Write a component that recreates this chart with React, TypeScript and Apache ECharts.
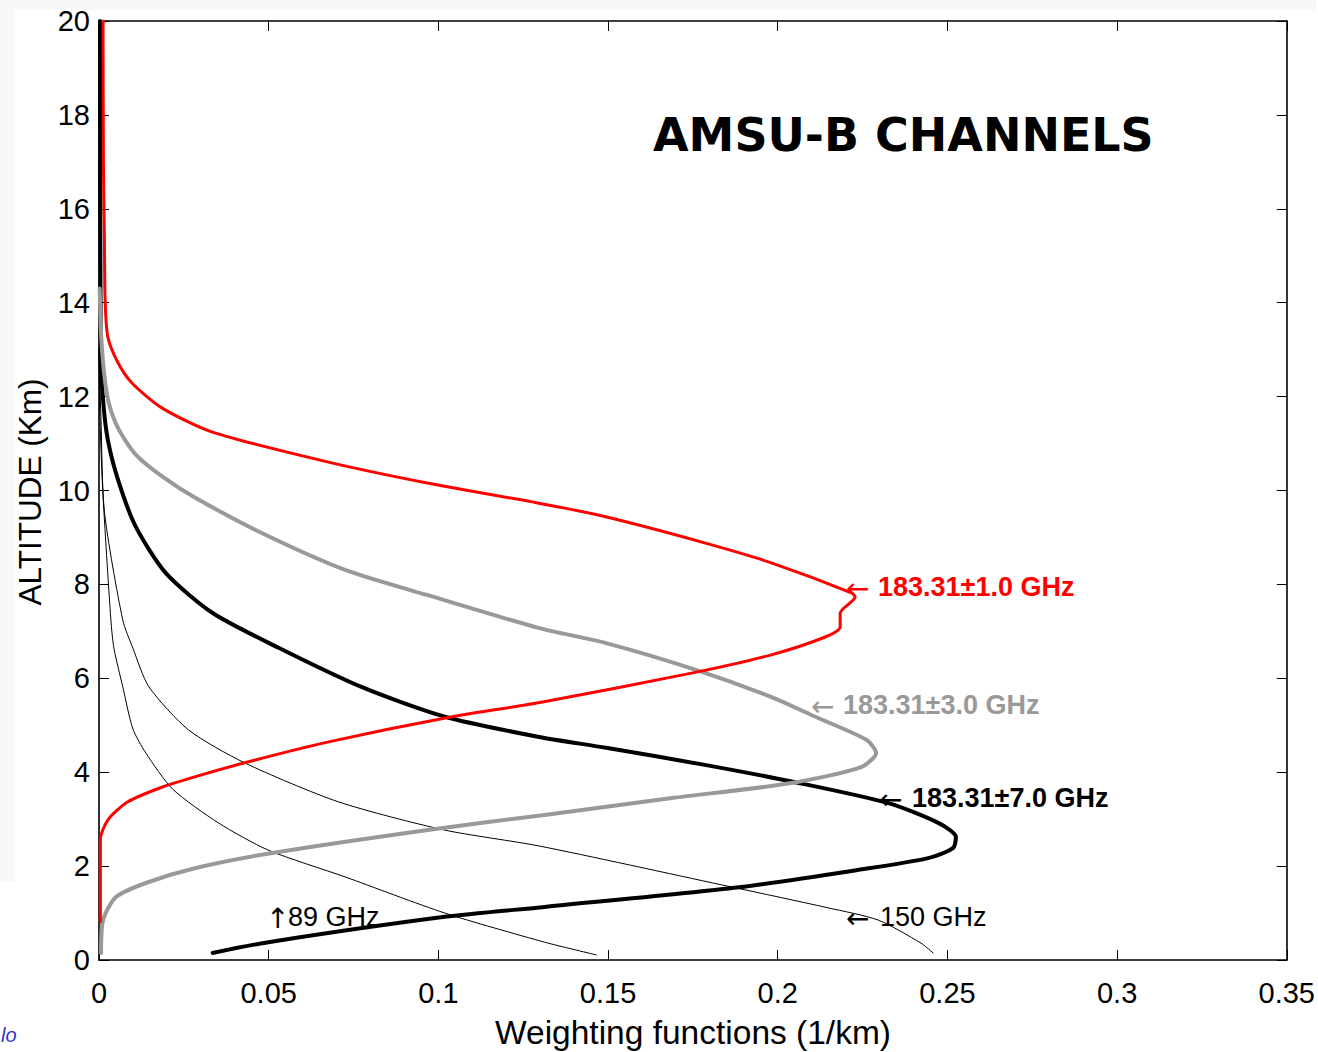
import React, { useEffect, useRef } from "react";
import * as echarts from "echarts";

// Weighting function (1/km) vs altitude (km)
const ch89: number[][] = [
  [0, 13.0], [0.0003, 11.5], [0.0011, 10.0], [0.0035, 7.24], [0.0044, 6.64],
  [0.007, 5.82], [0.01, 4.92], [0.0138, 4.41], [0.0217, 3.64], [0.0352, 2.92],
  [0.0499, 2.34], [0.0725, 1.77], [0.1019, 1.0], [0.1313, 0.38], [0.1465, 0.11],
];
const ch150: number[][] = [
  [0, 13.0], [0.0006, 11.5], [0.0016, 9.55], [0.007, 7.24], [0.01, 6.64],
  [0.0147, 5.82], [0.0264, 4.9], [0.0429, 4.2], [0.0705, 3.37], [0.1017, 2.77],
  [0.1296, 2.43], [0.1835, 1.6], [0.2149, 1.11], [0.2296, 0.85], [0.2422, 0.36],
  [0.2458, 0.15],
];
const ch7: number[][] = [
  [0.0335, 0.15], [0.0499, 0.38], [0.1019, 0.92], [0.1313, 1.13], [0.1885, 1.55],
  [0.2238, 1.92], [0.2443, 2.17], [0.2517, 2.39], [0.2525, 2.62], [0.2473, 2.92],
  [0.2326, 3.34], [0.2062, 3.77], [0.1789, 4.15], [0.1494, 4.52], [0.1297, 4.75],
  [0.1019, 5.18], [0.0775, 5.81], [0.0529, 6.65], [0.0335, 7.39],
  [0.0197, 8.24], [0.0109, 9.22], [0.0059, 10.16], [0.0026, 11.08], [0.0012, 11.93],
  [0.0005, 13.0], [0.0003, 20.0],
];
const ch3: number[][] = [
  [0.0006, 0.15], [0.0012, 0.85], [0.005, 1.34], [0.0138, 1.64], [0.0285, 1.96],
  [0.0511, 2.28], [0.0969, 2.77], [0.1313, 3.09], [0.1688, 3.45], [0.2041, 3.77],
  [0.2246, 4.11], [0.229, 4.41], [0.2261, 4.69], [0.2111, 5.18], [0.1982, 5.6],
  [0.1759, 6.18], [0.1494, 6.75], [0.1297, 7.07], [0.0969, 7.77], [0.0725, 8.31],
  [0.0481, 9.09], [0.0285, 9.84], [0.0188, 10.29], [0.0109, 10.76], [0.0059, 11.29],
  [0.0029, 11.86], [0.0015, 12.5], [0.0006, 13.35], [0.0002, 14.3],
];
const ch1: number[][] = [
  [0.0004, 0.81], [0.0004, 2.56], [0.0026, 2.98], [0.0085, 3.37], [0.0185, 3.68],
  [0.0282, 3.9], [0.0429, 4.2], [0.0673, 4.64], [0.1017, 5.15], [0.1311, 5.5],
  [0.1746, 6.11], [0.1981, 6.5], [0.214, 6.88], [0.2184, 7.09], [0.2184, 7.39],
  [0.2228, 7.73], [0.2217, 7.82], [0.1981, 8.46], [0.1787, 8.88], [0.1493, 9.44],
  [0.1296, 9.73], [0.0967, 10.16], [0.0673, 10.61], [0.0332, 11.25], [0.0185, 11.76],
  [0.0097, 12.29], [0.0056, 12.72], [0.0026, 13.27], [0.0018, 14.06], [0.0016, 15.3],
  [0.0013, 17.0], [0.0012, 20.0],
];

const xTicks = [0, 0.35, 0.05];
const yTicks = [0, 20, 2];

const titleText = "AMSU-B CHANNELS";
const xName = "Weighting functions (1/km)";
const yName = "ALTITUDE (Km)";
const labels = [
  { arrow: "←", text: "183.31±1.0 GHz", color: "#ff0000", bold: true, ax: 846, tx: 878, y: 587 },
  { arrow: "←", text: "183.31±3.0 GHz", color: "#999999", bold: true, ax: 811, tx: 843, y: 705 },
  { arrow: "←", text: "183.31±7.0 GHz", color: "#000000", bold: true, ax: 879, tx: 912, y: 798 },
  { arrow: "←", text: "150 GHz", color: "#000000", bold: false, ax: 846, tx: 880, y: 917 },
  { arrow: "↑", text: "89 GHz", color: "#000000", bold: false, ax: 266, tx: 288, y: 917 },
];

const FONT = "'Liberation Sans', Arial, Helvetica, sans-serif";

export default function App() {
  const ref = useRef<HTMLDivElement>(null);
  useEffect(() => {
    if (!ref.current) return;
    const chart = echarts.init(ref.current, null, { renderer: "svg" });
    const axisCommon = {
      type: "value" as const,
      axisLine: { show: true, onZero: false, lineStyle: { color: "#000", width: 1.6 } },
      axisTick: { show: true, inside: true, length: 10, lineStyle: { color: "#000", width: 1 } },
      splitLine: { show: false },
    };
    const fmt = (v: number) => String(+v.toFixed(2));
    const lineSeries = (data: number[][], color: string, width: number) => ({
      type: "line",
      data,
      showSymbol: false,
      symbol: "none",
      smooth: 0.25,
      lineStyle: { color, width, cap: "round", join: "round" },
      silent: true,
    });
    const graphics: any[] = [
      { type: "rect", shape: { x: 0, y: 0, width: 1316, height: 10 }, style: { fill: "#f8f8f8" }, z: -10 },
      { type: "rect", shape: { x: 0, y: 0, width: 15, height: 882 }, style: { fill: "#f8f8f8" }, z: -10 },
      {
        type: "text", x: 653, y: 135,
        style: { text: titleText, fontFamily: "'DejaVu Sans', sans-serif", fontWeight: "bold", fontSize: 46, fill: "#000", textVerticalAlign: "middle" },
      },
      {
        type: "text", x: 693, y: 1032,
        style: { text: xName, fontFamily: FONT, fontSize: 33.5, fill: "#000", textAlign: "center", textVerticalAlign: "middle" },
      },
      {
        type: "text", x: 30, y: 492, rotation: Math.PI / 2,
        style: { text: yName, fontFamily: FONT, fontSize: 31.5, fill: "#000", textAlign: "center", textVerticalAlign: "middle" },
      },
      {
        type: "text", x: 1, y: 1035,
        style: { text: "lo", fontFamily: FONT, fontStyle: "italic", fontSize: 20, fill: "#3333cc", textVerticalAlign: "middle" },
      },
    ];
    labels.forEach((l) => {
      graphics.push({
        type: "text", x: l.ax, y: l.y + 1,
        style: { text: l.arrow, fontFamily: "'DejaVu Sans', sans-serif", fontSize: 28, fill: l.color, textVerticalAlign: "middle" },
      });
      graphics.push({
        type: "text", x: l.tx, y: l.y,
        style: { text: l.text, fontFamily: FONT, fontWeight: l.bold ? "bold" : "normal", fontSize: 27, fill: l.color, textVerticalAlign: "middle" },
      });
    });
    chart.setOption({
      animation: false,
      backgroundColor: "#ffffff",
      grid: { left: 99, right: 28, top: 21, bottom: 92, containLabel: false },
      xAxis: [
        {
          ...axisCommon, position: "bottom", min: xTicks[0], max: xTicks[1], interval: xTicks[2],
          axisLabel: { show: true, fontSize: 29, color: "#000", margin: 18, fontFamily: FONT, formatter: fmt },
        },
        {
          ...axisCommon, position: "top", min: xTicks[0], max: xTicks[1], interval: xTicks[2],
          axisLabel: { show: false },
        },
      ],
      yAxis: [
        {
          ...axisCommon, position: "left", min: yTicks[0], max: yTicks[1], interval: yTicks[2],
          axisLabel: { show: true, fontSize: 29, color: "#000", margin: 9, fontFamily: FONT },
        },
        {
          ...axisCommon, position: "right", min: yTicks[0], max: yTicks[1], interval: yTicks[2],
          axisLabel: { show: false },
        },
      ],
      series: [
        lineSeries(ch89, "#000000", 1),
        lineSeries(ch150, "#000000", 1),
        lineSeries(ch7, "#000000", 4),
        lineSeries(ch3, "#999999", 4),
        lineSeries(ch1, "#ff0000", 3),
      ],
      graphic: graphics,
    });
    return () => chart.dispose();
  }, []);
  return (
    <div
      ref={ref}
      style={{ position: "absolute", left: 0, top: 0, width: 1318, height: 1052 }}
    />
  );
}
